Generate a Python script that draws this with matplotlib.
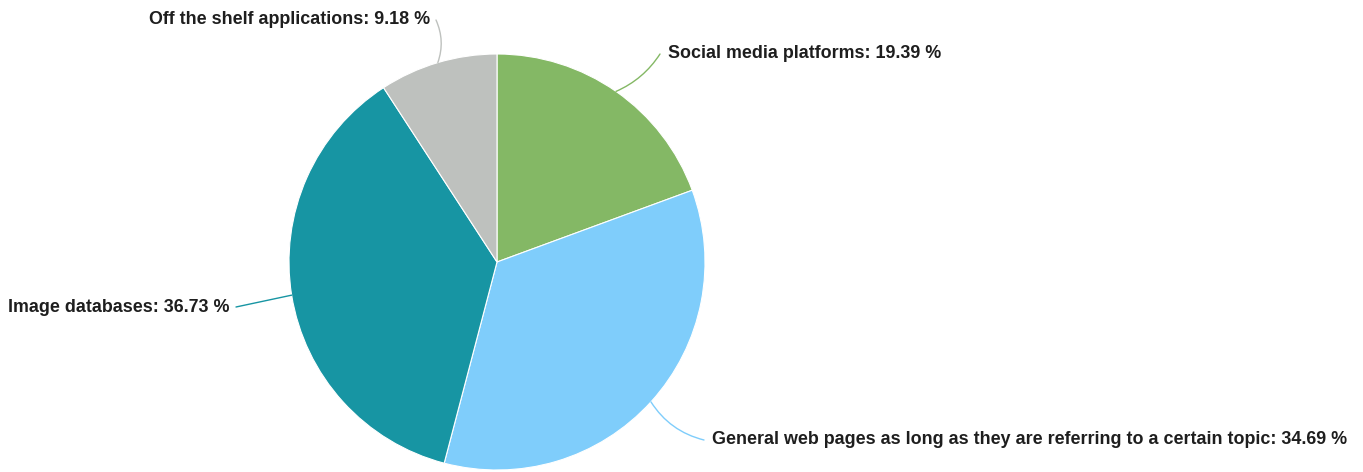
import numpy as np
import matplotlib
matplotlib.use("Agg")
import matplotlib.pyplot as plt

# ── data ──────────────────────────────────────────────────────────────────────
LABELS = [
    "Social media platforms",
    "General web pages as long as they are referring to a certain topic",
    "Image databases",
    "Off the shelf applications",
]
SHARES = [19.39, 34.69, 36.73, 9.18]
COLORS = ["#84b865", "#7fcdfb", "#1795a3", "#bec1be"]

# label placement (figure pixels, y from top), alignment, connector curvature
LABEL_POS = [(668, 54), (712, 440), (230, 307), (430, 20)]
LABEL_HA = ["left", "left", "right", "right"]
CONN_RAD = [-0.15, -0.2, 0.0, -0.2]

W, H = 1363, 472
CX, CY, R = 497, 262, 208

plt.rcParams["font.family"] = ["Liberation Sans", "DejaVu Sans"]

fig = plt.figure(figsize=(W / 100, H / 100), dpi=100)
ax = fig.add_axes([0, 0, 1, 1])

wedges, _ = ax.pie(SHARES, colors=COLORS, startangle=90, counterclock=False,
                   center=(CX, H - CY), radius=R,
                   wedgeprops={"linewidth": 0.8, "edgecolor": "white"})
ax.set_xlim(0, W)
ax.set_ylim(0, H)
ax.set_aspect("equal")
ax.axis("off")

for w, lab, val, col, (lx, ly), ha, rad in zip(wedges, LABELS, SHARES, COLORS,
                                               LABEL_POS, LABEL_HA, CONN_RAD):
    mid = np.deg2rad((w.theta1 + w.theta2) / 2)
    ex = CX + R * np.cos(mid)
    ey = (H - CY) + R * np.sin(mid)
    tx = lx + (-8 if ha == "left" else 6)
    ax.annotate(f"{lab}: {val:.2f} %", xy=(ex, ey), xytext=(lx, H - ly),
                ha=ha, va="center", fontsize=12.9, fontweight="bold",
                color="#1e1e1e")
    ax.annotate("", xy=(ex, ey), xytext=(tx, H - ly),
                arrowprops=dict(arrowstyle="-", color=col, lw=1,
                                shrinkA=0, shrinkB=0,
                                connectionstyle=f"arc3,rad={rad}"))

fig.savefig("out.png", dpi=100)
